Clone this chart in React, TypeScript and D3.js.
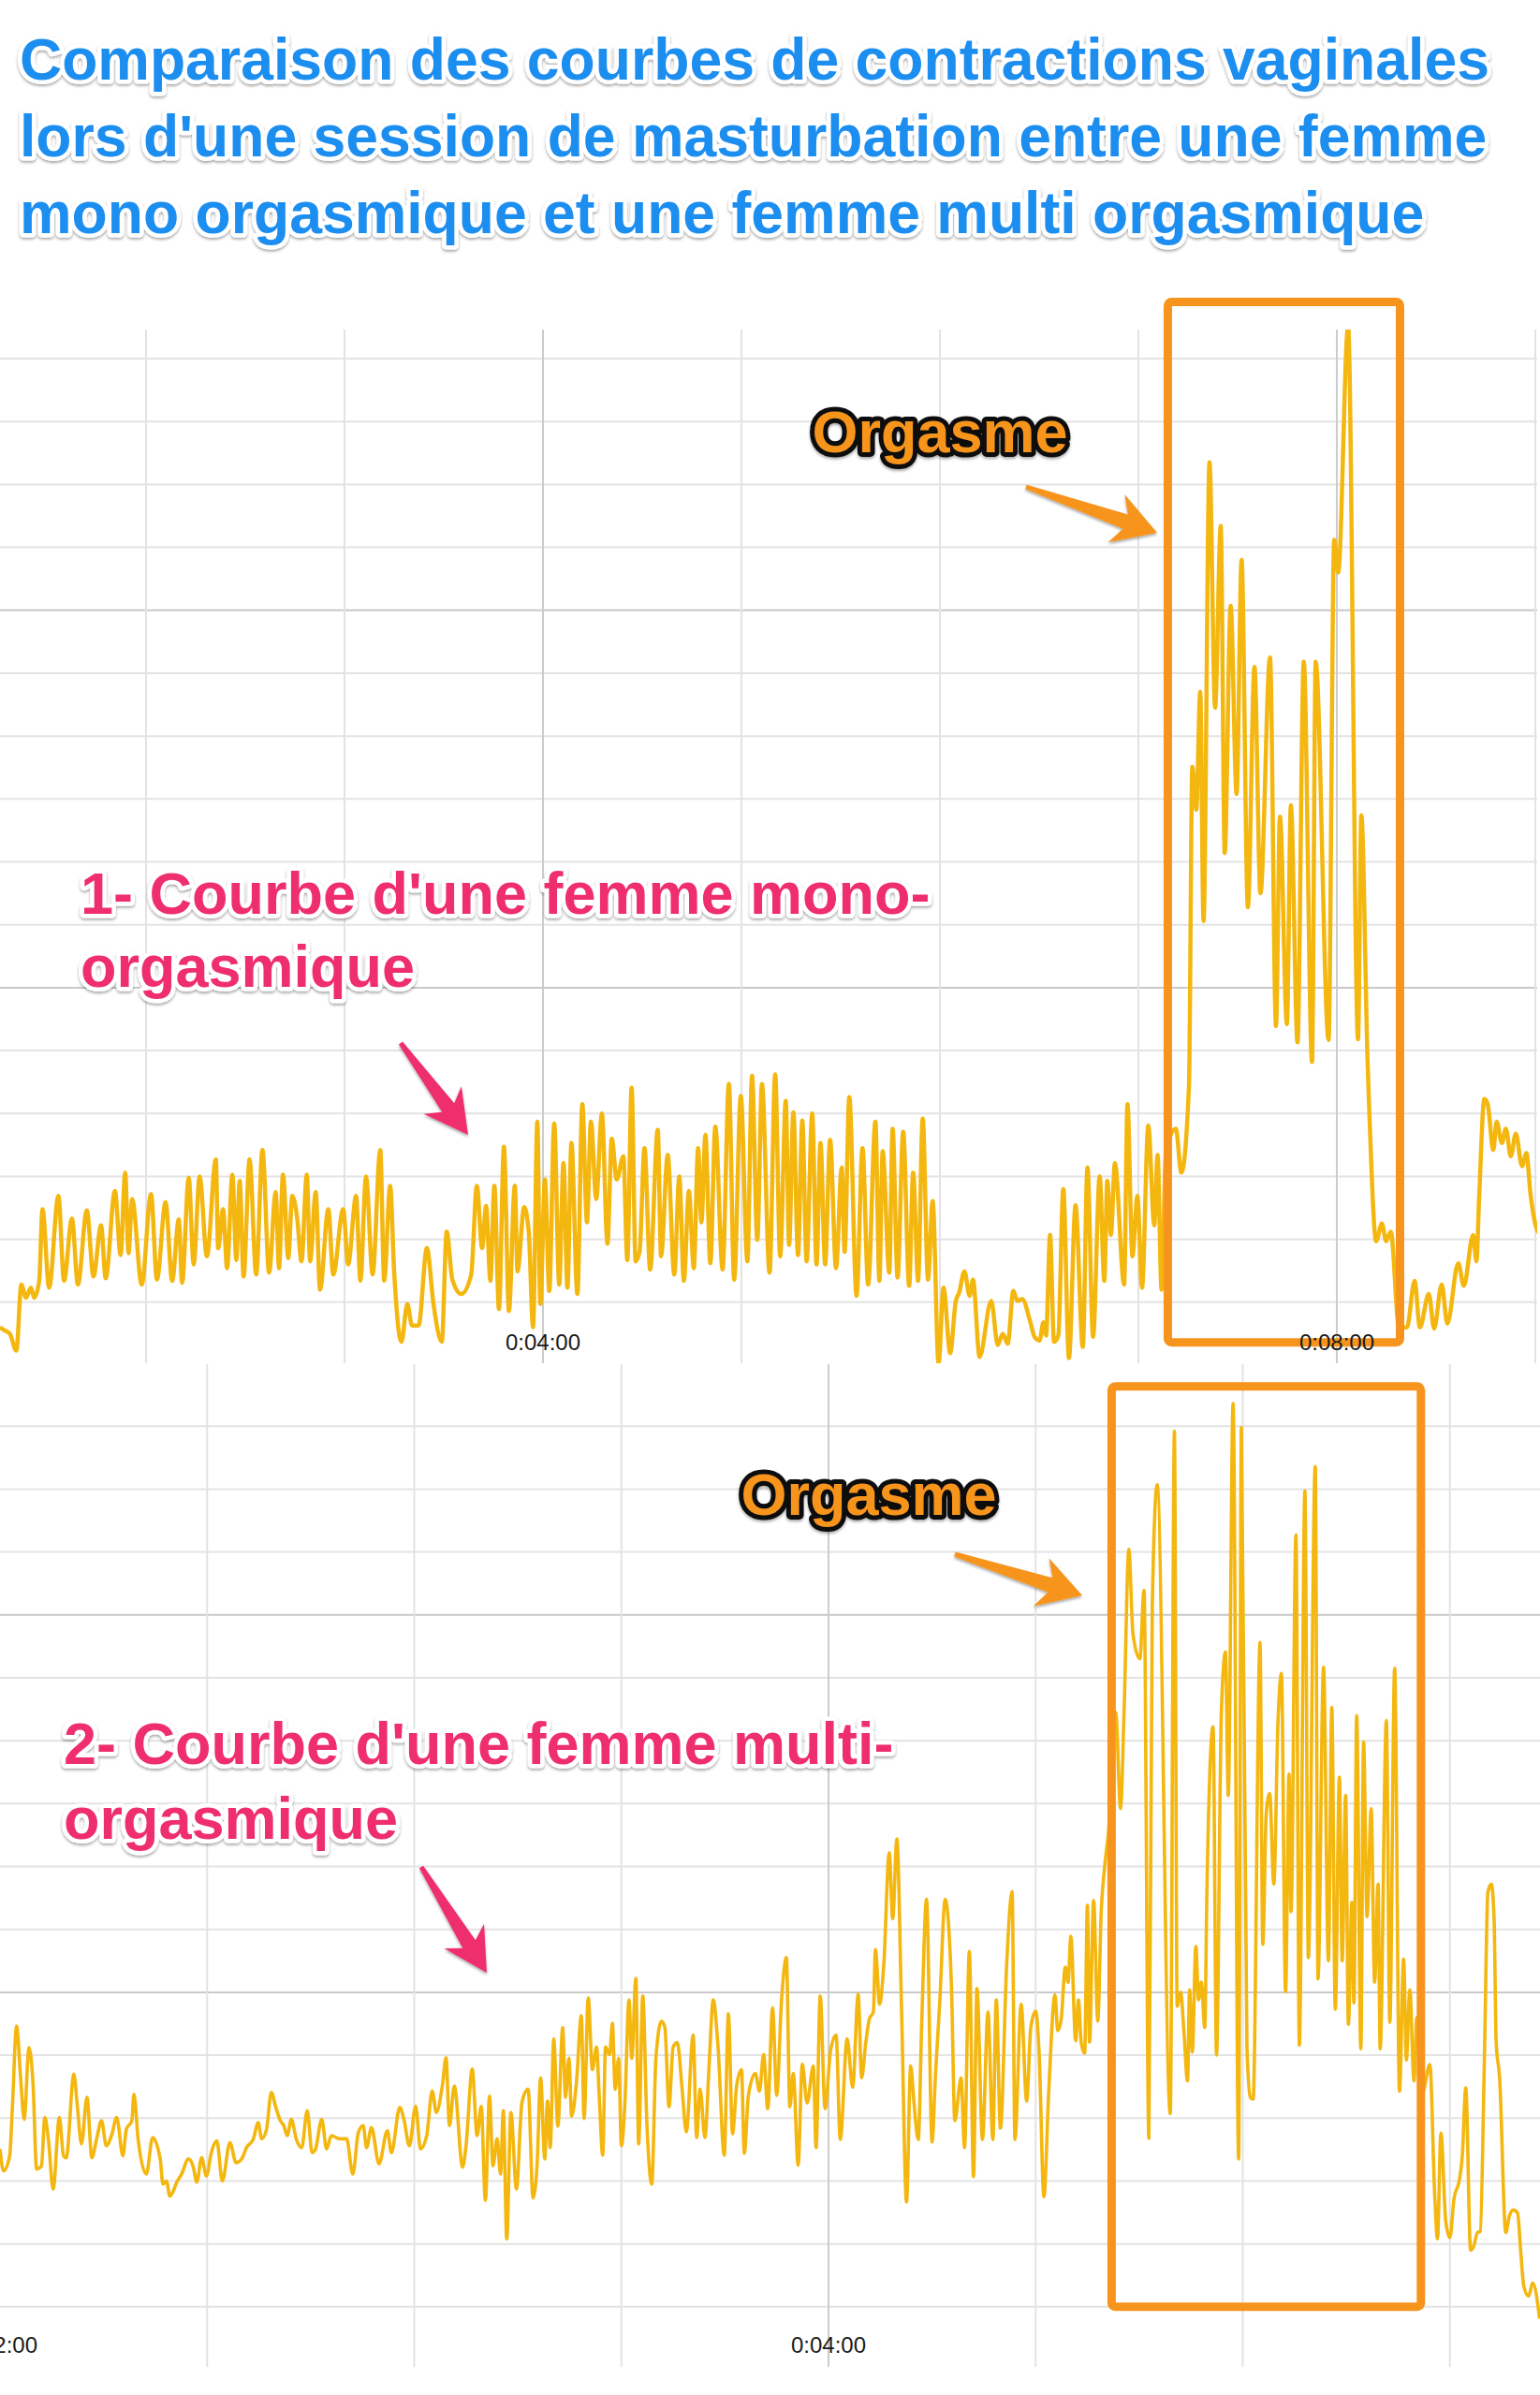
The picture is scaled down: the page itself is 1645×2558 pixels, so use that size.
import * as d3 from "d3"

// Series: [time in seconds, contraction level in grid units]
const monoSeries: [number, number][] = [
  [75.8, 0.6], [77.3, 0.55], [78.8, 0.5], [80.8, 0.23], [82.3, 1.28], [83.7, 1.07], [85.2, 1.23], [86.2, 1.07],
  [87.7, 1.34], [88.7, 2.48], [90.7, 1.23], [93.5, 2.69], [95.2, 1.34], [97.6, 2.33], [99.4, 1.28], [102.1, 2.46],
  [104.1, 1.41], [106.4, 2.22], [107.8, 1.38], [110.6, 2.77], [112.3, 1.75], [113.7, 3.06], [114.7, 1.78], [115.8, 2.64],
  [118.7, 1.28], [121.5, 2.72], [123.3, 1.36], [125.9, 2.59], [127.9, 1.34], [129.9, 2.32], [130.9, 1.31], [132.9, 2.98],
  [134.4, 1.6], [136.2, 3.0], [138.4, 1.73], [141.1, 3.27], [141.8, 1.86], [143.3, 2.48], [144.5, 1.54], [146.1, 3.03],
  [147.3, 1.67], [148.3, 2.93], [149.5, 1.41], [151.3, 3.27], [153.3, 1.44], [155.2, 3.42], [157.2, 1.47], [159.2, 2.75],
  [160.2, 1.54], [161.4, 3.03], [163.0, 1.7], [164.2, 2.69], [165.7, 2.33], [167.0, 1.65], [168.6, 3.03], [169.6, 1.65],
  [171.3, 2.75], [172.6, 1.2], [175.1, 2.48], [176.6, 1.44], [179.6, 2.48], [181.1, 1.6], [183.5, 2.69], [184.8, 1.34],
  [186.5, 3.0], [188.5, 1.44], [190.8, 3.42], [192.0, 1.34], [193.8, 2.85], [195.0, 1.49], [197.2, 0.37], [199.0, 0.97],
  [200.4, 0.63], [202.4, 0.63], [204.9, 1.86], [206.9, 0.97], [209.4, 0.37], [210.9, 2.12], [212.6, 1.36], [215.3, 1.13],
  [218.3, 1.44], [220.0, 2.85], [221.6, 1.86], [222.8, 2.53], [224.1, 1.34], [225.3, 2.85], [226.7, 0.89], [228.2, 3.47],
  [229.7, 0.86], [231.5, 2.85], [232.3, 1.49], [234.3, 2.51], [235.7, 2.12], [237.0, 0.6], [238.3, 3.87], [239.2, 0.97],
  [240.6, 2.95], [241.9, 1.18], [243.4, 3.84], [244.9, 1.28], [246.2, 3.21], [247.4, 1.23], [248.6, 3.53], [250.4, 1.13],
  [251.9, 4.15], [253.3, 2.27], [254.5, 3.87], [256.1, 2.64], [257.8, 4.0], [259.5, 1.93], [260.8, 3.6], [262.3, 2.95],
  [264.3, 3.32], [265.5, 1.67], [266.8, 4.41], [268.0, 1.65], [269.2, 1.8], [270.7, 3.45], [272.4, 1.52], [274.7, 3.74],
  [275.7, 1.73], [277.7, 3.34], [279.7, 1.44], [281.2, 3.0], [282.6, 1.34], [284.1, 2.77], [285.6, 1.54], [286.9, 3.45],
  [287.9, 2.27], [289.1, 3.66], [290.6, 1.62], [292.1, 3.79], [294.3, 1.52], [296.2, 4.47], [297.8, 1.36], [299.8, 4.28],
  [301.8, 1.65], [303.2, 4.6], [304.8, 1.99], [306.2, 4.47], [308.5, 1.47], [310.2, 4.62], [311.7, 1.73], [313.4, 4.2],
  [314.4, 1.91], [315.7, 4.02], [317.1, 1.75], [318.4, 3.89], [319.7, 1.65], [321.4, 4.0], [322.7, 1.6], [323.9, 3.53],
  [325.3, 1.6], [326.8, 3.58], [328.6, 1.54], [330.3, 3.14], [331.2, 1.8], [332.6, 4.26], [334.8, 1.1], [336.6, 3.45],
  [338.3, 1.28], [340.5, 3.87], [341.7, 1.34], [342.7, 3.4], [344.7, 1.47], [345.7, 3.76], [347.2, 1.39], [348.9, 3.71],
  [350.7, 1.26], [351.9, 3.06], [353.4, 1.34], [354.8, 3.92], [356.4, 1.36], [357.8, 2.61], [359.6, 0.03], [361.1, 1.23],
  [363.1, 0.19], [364.8, 1.02], [365.8, 1.15], [367.4, 1.49], [369.0, 1.1], [370.0, 1.36], [372.0, 0.13], [375.5, 1.02],
  [377.5, 0.32], [379.0, 0.5], [380.5, 0.34], [382.2, 1.18], [383.4, 1.02], [384.9, 1.05], [387.2, 0.71], [388.6, 0.45],
  [390.1, 0.39], [391.3, 0.68], [392.1, 0.47], [393.3, 2.07], [394.5, 0.37], [395.8, 0.47], [397.3, 2.8], [399.0, 0.11],
  [401.0, 2.54], [403.2, 0.29], [404.6, 3.14], [406.3, 0.45], [408.3, 3.0], [409.7, 1.34], [410.6, 2.93], [411.7, 2.07],
  [412.9, 3.21], [415.7, 1.28], [416.7, 4.15], [418.2, 1.73], [419.7, 2.69], [421.1, 1.23], [423.0, 3.81], [424.8, 2.22],
  [425.8, 3.34], [427.0, 1.2], [428.3, 3.37], [431.3, 3.76], [433.0, 3.06], [435.3, 4.44], [436.3, 9.51], [437.5, 8.83],
  [438.7, 10.7], [439.7, 7.06], [441.5, 14.35], [443.2, 10.45], [444.9, 13.34], [446.1, 8.14], [447.9, 12.07], [449.7, 9.08],
  [451.2, 12.8], [453.1, 7.28], [455.1, 11.1], [456.9, 7.5], [459.8, 11.25], [461.6, 5.39], [462.8, 8.72], [464.9, 5.42],
  [466.1, 8.9], [468.1, 5.13], [470.0, 11.18], [472.5, 4.82], [473.6, 11.18], [477.5, 5.17], [479.2, 13.12], [480.4, 12.6],
  [483.4, 16.51], [486.4, 5.18], [487.4, 8.74], [489.3, 4.8], [489.9, 3.9], [491.9, 1.97], [493.6, 2.25], [494.9, 1.97],
  [496.3, 2.12], [498.8, 0.6], [501.2, 0.6], [503.5, 1.34], [505.1, 0.6], [507.8, 1.13], [509.4, 0.58], [511.7, 1.28],
  [513.4, 0.66], [516.7, 1.62], [518.4, 1.26], [521.2, 2.07], [522.2, 1.65], [523.0, 2.64], [524.6, 4.23], [525.6, 4.15],
  [527.3, 3.42], [528.3, 3.87], [529.9, 3.53], [531.1, 3.76], [532.6, 3.32], [534.1, 3.68], [536.0, 3.16], [537.3, 3.37],
  [538.5, 2.74], [540.1, 2.22], [541.0, 2.1],
]

const multiSeries: [number, number][] = [
  [120.0, 3.51], [120.5, 3.16], [121.4, 3.4], [121.8, 4.19], [122.4, 5.46], [123.0, 4.62], [123.5, 3.98], [124.2, 5.12],
  [124.8, 4.51], [125.3, 3.19], [126.0, 3.24], [126.5, 4.01], [127.0, 3.67], [127.7, 2.87], [128.6, 4.01], [129.2, 3.4],
  [129.6, 3.37], [130.7, 4.7], [131.2, 4.19], [131.8, 3.59], [132.6, 4.33], [133.3, 3.37], [134.0, 3.67], [134.7, 3.96],
  [135.4, 3.56], [136.2, 3.74], [136.9, 4.01], [137.8, 3.4], [138.3, 3.82], [139.1, 3.96], [139.4, 4.38], [140.0, 3.67],
  [141.2, 3.11], [142.1, 3.69], [143.2, 3.35], [143.6, 2.95], [144.1, 3.0], [144.6, 2.76], [145.1, 2.84], [145.6, 2.98],
  [146.3, 3.11], [147.3, 3.35], [148.0, 3.22], [148.5, 2.98], [149.2, 3.37], [149.9, 3.08], [150.6, 3.45], [151.4, 3.64],
  [152.2, 3.0], [153.3, 3.61], [154.2, 3.29], [155.0, 3.35], [155.7, 3.53], [156.7, 3.67], [157.4, 3.93], [157.9, 3.67],
  [158.6, 3.82], [159.3, 4.41], [159.9, 4.19], [160.6, 3.96], [161.1, 3.88], [161.6, 3.72], [162.2, 3.98], [162.9, 3.67],
  [163.7, 3.53], [164.5, 4.12], [165.2, 3.45], [165.7, 3.51], [166.6, 3.98], [167.3, 3.51], [168.0, 3.72], [169.2, 3.67],
  [170.2, 3.67], [171.1, 3.11], [171.9, 3.77], [172.6, 3.88], [173.1, 3.53], [173.8, 3.85], [174.9, 3.27], [176.1, 3.8],
  [176.7, 3.45], [177.9, 4.17], [178.5, 3.98], [179.3, 3.56], [180.2, 4.19], [180.9, 3.51], [181.8, 3.72], [182.6, 4.43],
  [183.2, 4.09], [184.1, 4.54], [184.6, 4.96], [185.1, 3.88], [185.8, 4.51], [187.0, 3.22], [187.5, 3.56], [188.4, 4.78],
  [189.1, 3.72], [189.7, 4.19], [190.3, 2.69], [190.9, 4.35], [191.4, 3.24], [192.0, 3.67], [192.5, 3.11], [192.9, 4.12],
  [193.4, 2.08], [194.0, 4.09], [194.8, 2.87], [195.6, 4.25], [196.5, 4.46], [197.2, 2.73], [197.8, 3.28], [198.3, 4.64],
  [198.9, 3.35], [199.3, 4.27], [199.7, 3.53], [200.2, 5.26], [200.8, 3.87], [201.5, 5.44], [201.9, 4.33], [202.4, 4.95],
  [202.8, 4.03], [203.5, 4.58], [204.2, 5.63], [204.6, 3.99], [205.2, 5.91], [205.8, 4.77], [206.4, 5.13], [206.8, 4.33],
  [207.3, 3.41], [207.7, 5.13], [208.3, 5.01], [208.7, 5.51], [209.1, 4.46], [209.6, 4.95], [210.0, 3.56], [210.5, 4.21],
  [211.1, 5.88], [211.5, 4.95], [212.1, 6.22], [212.5, 3.59], [213.1, 5.94], [213.7, 3.9], [214.4, 2.95], [215.0, 4.95],
  [215.8, 5.54], [216.3, 5.44], [216.9, 4.18], [217.5, 5.13], [218.1, 5.2], [218.8, 4.46], [219.4, 3.78], [220.4, 5.32],
  [220.9, 3.69], [221.4, 4.46], [222.1, 3.69], [222.7, 4.83], [223.3, 5.88], [224.0, 5.13], [224.9, 3.41], [225.5, 5.66],
  [226.1, 3.75], [226.7, 4.52], [227.4, 4.77], [227.8, 3.44], [228.4, 4.36], [229.4, 4.71], [230.0, 4.43], [230.6, 5.01],
  [231.2, 4.15], [231.9, 5.75], [232.5, 4.36], [233.2, 5.88], [233.9, 6.55], [234.4, 4.18], [234.9, 4.71], [235.6, 3.25],
  [236.2, 4.86], [236.9, 4.24], [237.8, 4.83], [238.2, 3.53], [238.8, 5.94], [239.5, 4.15], [240.3, 5.07], [241.1, 5.32],
  [241.7, 3.66], [242.7, 5.26], [243.5, 4.49], [244.3, 5.97], [244.8, 4.64], [245.4, 5.2], [245.9, 5.57], [246.5, 5.69],
  [246.8, 6.68], [247.4, 5.81], [248.0, 6.43], [248.8, 8.22], [249.3, 7.17], [249.9, 8.44], [250.6, 5.63], [251.3, 2.67],
  [251.9, 4.83], [252.4, 4.21], [253.0, 3.66], [253.5, 5.51], [254.2, 7.48], [255.0, 3.62], [255.5, 4.71], [256.1, 5.81],
  [256.9, 7.48], [257.8, 6.12], [258.3, 3.96], [259.2, 4.64], [259.7, 3.53], [260.4, 6.65], [261.0, 3.07], [261.5, 6.06],
  [262.3, 3.66], [263.1, 5.69], [263.8, 3.66], [264.3, 5.88], [264.9, 3.84], [265.8, 6.43], [266.6, 7.6], [267.0, 3.66],
  [267.9, 5.81], [268.7, 4.27], [269.3, 5.44], [270.0, 5.7], [270.5, 5.05], [271.2, 2.75], [271.9, 4.43], [272.8, 5.96],
  [273.2, 5.39], [273.7, 5.57], [274.3, 6.4], [274.7, 6.16], [275.1, 6.89], [275.8, 5.23], [276.2, 5.88], [276.6, 5.2],
  [277.1, 5.03], [277.5, 7.38], [277.8, 5.21], [278.4, 7.46], [279.0, 5.54], [279.5, 7.28], [280.0, 8.0], [280.6, 8.6],
  [281.6, 10.45], [282.3, 8.92], [282.8, 10.42], [283.5, 13.04], [284.1, 11.69], [285.1, 11.3], [285.7, 12.39], [286.4, 3.68],
  [286.9, 12.16], [287.6, 14.07], [289.5, 4.07], [290.1, 14.92], [290.5, 5.78], [291.0, 6.0], [291.5, 5.34], [292.0, 4.59],
  [292.3, 6.04], [292.7, 5.05], [293.2, 6.73], [293.6, 5.88], [294.0, 6.16], [294.5, 5.44], [294.8, 7.56], [295.7, 10.22],
  [296.2, 5.0], [296.9, 10.45], [297.5, 11.41], [297.9, 9.13], [298.6, 15.36], [299.4, 3.35], [299.8, 14.98], [300.6, 5.16],
  [301.1, 4.33], [301.5, 4.3], [302.5, 11.56], [302.9, 6.76], [303.4, 8.85], [303.9, 9.16], [304.5, 7.72], [305.1, 10.3],
  [305.6, 11.07], [306.2, 6.01], [306.7, 9.47], [307.0, 7.28], [307.7, 13.27], [308.2, 5.16], [309.0, 13.97], [309.5, 6.55],
  [310.5, 14.36], [310.9, 6.21], [311.7, 11.17], [312.4, 6.5], [312.9, 10.53], [313.4, 5.73], [314.0, 9.42], [314.4, 6.5],
  [314.9, 9.13], [315.3, 5.49], [315.8, 7.43], [316.1, 5.83], [316.5, 10.4], [317.1, 5.1], [317.5, 9.98], [318.0, 7.2],
  [318.6, 8.92], [319.1, 6.16], [319.6, 7.72], [319.9, 5.1], [320.8, 10.32], [321.3, 5.52], [322.0, 11.15], [322.7, 4.43],
  [323.3, 6.53], [323.7, 4.92], [324.2, 6.04], [324.8, 4.59], [325.2, 5.6], [326.0, 4.4], [327.1, 4.85], [327.8, 2.78],
  [328.2, 2.08], [328.7, 3.76], [329.4, 2.36], [330.0, 2.1], [330.6, 2.72], [331.4, 3.03], [331.8, 3.4], [332.3, 4.48],
  [333.0, 1.9], [333.4, 1.95], [334.0, 2.18], [334.4, 2.2], [335.0, 4.95], [335.5, 7.59], [336.0, 7.72], [336.4, 7.17],
  [336.7, 5.21], [337.2, 4.64], [338.1, 2.18], [338.6, 2.44], [339.2, 2.54], [339.8, 2.49], [340.3, 1.82], [340.7, 1.33],
  [341.4, 1.17], [342.0, 1.38], [343.0, 0.81],
]

const titleLines = [
  "Comparaison des courbes de contractions vaginales",
  "lors d'une session de masturbation entre une femme",
  "mono orgasmique et une femme multi orgasmique",
]
const monoCaption = ["1- Courbe d'une femme mono-", "orgasmique"]
const multiCaption = ["2- Courbe d'une femme multi-", "orgasmique"]
const orgasmLabel = "Orgasme"

// grid ticks (seconds / grid units)
const monoTimeGrid = [120, 180, 240, 300, 360, 420, 480, 540]
const monoTimeLabels = [240, 480]
const multiTimeGrid = [150, 180, 210, 240, 270, 300, 330]
const multiTimeLabels = [120, 240]
const monoLevelGrid = d3.range(1, 17)
const multiLevelGrid = d3.range(1, 16)
const majorLevels = [6, 12]

// highlighted "orgasme" windows: [t0, t1, v0, v1]
const monoWindow = [428.9, 499.1, 0.36, 16.9]
const multiWindow = [281.0, 325.8, 1.0, 15.63]

const W = 1645
const H = 2558
const FONT = "'Liberation Sans', Arial, Helvetica, sans-serif"
const LINE = "#F4B70F"
const ORANGE = "#F7941D"
const PINK = "#EF2F6D"
const BLUE = "#1F8EF0"

const fmt = (s: number) => {
  const m = Math.floor(s / 60)
  const sec = Math.round(s % 60)
  return `0:${String(m).padStart(2, "0")}:${String(sec).padStart(2, "0")}`
}

function arrowPath(tx: number, ty: number, px: number, py: number, tailW: number, neckW: number, headLen: number, headHalf: number) {
  const dx = px - tx
  const dy = py - ty
  const L = Math.hypot(dx, dy)
  const ux = dx / L
  const uy = dy / L
  const nx = -uy
  const ny = ux
  const kx = px - ux * headLen * 0.78
  const ky = py - uy * headLen * 0.78
  const bx = px - ux * headLen
  const by = py - uy * headLen
  const pts: [number, number][] = [
    [tx + (nx * tailW) / 2, ty + (ny * tailW) / 2],
    [kx + (nx * neckW) / 2, ky + (ny * neckW) / 2],
    [bx + nx * headHalf, by + ny * headHalf],
    [px, py],
    [bx - nx * headHalf, by - ny * headHalf],
    [kx - (nx * neckW) / 2, ky - (ny * neckW) / 2],
    [tx - (nx * tailW) / 2, ty - (ny * tailW) / 2],
  ]
  return "M" + pts.map((p) => p.join(",")).join("L") + "Z"
}

type ChartProps = {
  series: [number, number][]
  x: d3.ScaleLinear<number, number>
  y: d3.ScaleLinear<number, number>
  top: number
  bottom: number
  right: number
  timeGrid: number[]
  timeLabels: number[]
  levelGrid: number[]
  labelY: number
  lineWidth: number
  window: number[]
  id: string
}

const Chart = ({ series, x, y, top, bottom, right, timeGrid, timeLabels, levelGrid, labelY, lineWidth, window: win, id }: ChartProps) => {
  const line = d3
    .line<[number, number]>()
    .x((d) => x(d[0]))
    .y((d) => y(d[1]))
    .curve(d3.curveMonotoneX)

  return (
    <g>
      <clipPath id={id}>
        <rect x={0} y={top} width={right} height={bottom - top} />
      </clipPath>
      {/* horizontal grid */}
      {levelGrid.map((v) => (
        <line
          key={"h" + v}
          x1={0}
          x2={right}
          y1={y(v)}
          y2={y(v)}
          stroke={majorLevels.includes(v) ? "#c9c9c9" : "#e3e3e3"}
          strokeWidth={2}
        />
      ))}
      {/* vertical grid */}
      {timeGrid.map((t) => (
        <line
          key={"v" + t}
          x1={x(t)}
          x2={x(t)}
          y1={top}
          y2={bottom}
          stroke={timeLabels.includes(t) ? "#cccccc" : "#e3e3e3"}
          strokeWidth={2}
        />
      ))}
      <path
        d={line(series) || ""}
        fill="none"
        stroke={LINE}
        strokeWidth={lineWidth}
        strokeLinejoin="round"
        clipPath={`url(#${id})`}
      />
      <rect
        x={x(win[0])}
        y={y(win[3])}
        width={x(win[1]) - x(win[0])}
        height={y(win[2]) - y(win[3])}
        rx={4}
        fill="none"
        stroke={ORANGE}
        strokeWidth={9}
      />
      {timeLabels.map((t) => (
        <text key={"l" + t} x={x(t)} y={labelY} textAnchor="middle" fontFamily={FONT} fontSize={24} fill="#1a1a1a">
          {fmt(t)}
        </text>
      ))}
    </g>
  )
}

const OutlinedText = ({ lines, x, y0, dy, size, fill, stroke, strokeW, anchor = "start" }: any) => (
  <g filter="url(#soft)">
    {lines.map((s: string, i: number) => (
      <text
        key={i}
        x={x}
        y={y0 + i * dy}
        textAnchor={anchor}
        fontFamily={FONT}
        fontWeight={700}
        fontSize={size}
        fill={fill}
        stroke={stroke}
        strokeWidth={strokeW}
        strokeLinejoin="round"
        paintOrder="stroke"
      >
        {s}
      </text>
    ))}
  </g>
)

export default function App() {
  const x1 = d3.scaleLinear().domain([240, 480]).range([580, 1428])
  const y1 = d3.scaleLinear().domain([0, 16]).range([1458, 383])
  const x2 = d3.scaleLinear().domain([120, 240]).range([0, 885])
  const y2 = d3.scaleLinear().domain([0, 16]).range([2531, 1456])

  return (
    <div style={{ position: "absolute", left: 0, top: 0 }}>
      <svg width={W} height={H} viewBox={`0 0 ${W} ${H}`} style={{ display: "block" }}>
        <defs>
          <filter id="soft" x="-5%" y="-20%" width="110%" height="150%">
            <feDropShadow dx="0" dy="2" stdDeviation="1.6" floodColor="#000" floodOpacity="0.35" />
          </filter>
        </defs>
        <rect width={W} height={H} fill="#fff" />

        <Chart
          id="c1"
          series={monoSeries}
          x={x1}
          y={y1}
          top={352}
          bottom={1456}
          right={1642}
          timeGrid={monoTimeGrid}
          timeLabels={monoTimeLabels}
          levelGrid={monoLevelGrid}
          labelY={1442}
          lineWidth={4.5}
          window={monoWindow}
        />
        <Chart
          id="c2"
          series={multiSeries}
          x={x2}
          y={y2}
          top={1457}
          bottom={2528}
          right={W}
          timeGrid={multiTimeGrid}
          timeLabels={multiTimeLabels}
          levelGrid={multiLevelGrid}
          labelY={2513}
          lineWidth={3.6}
          window={multiWindow}
        />

        <OutlinedText lines={titleLines} x={21} y0={85} dy={82} size={62.5} fill={BLUE} stroke="#fff" strokeW={9} />
        <OutlinedText lines={monoCaption} x={86} y0={976} dy={78} size={63} fill={PINK} stroke="#fff" strokeW={9} />
        <OutlinedText lines={multiCaption} x={68} y0={1884} dy={80} size={63} fill={PINK} stroke="#fff" strokeW={9} />
        <OutlinedText lines={[orgasmLabel]} x={1004} y0={483} dy={0} size={63} fill={ORANGE} stroke="#111" strokeW={10} anchor="middle" />
        <OutlinedText lines={[orgasmLabel]} x={928} y0={1618} dy={0} size={63} fill={ORANGE} stroke="#111" strokeW={10} anchor="middle" />

        <g filter="url(#soft)">
          <path d={arrowPath(1096, 520, 1236, 569, 5, 16, 46, 27)} fill={ORANGE} />
          <path d={arrowPath(1020, 1660, 1156, 1704, 5, 16, 46, 27)} fill={ORANGE} />
          <path d={arrowPath(428, 1114, 500, 1212, 5, 16, 46, 25)} fill={PINK} />
          <path d={arrowPath(450, 1994, 520, 2107, 5, 16, 46, 25)} fill={PINK} />
        </g>
      </svg>
    </div>
  )
}
